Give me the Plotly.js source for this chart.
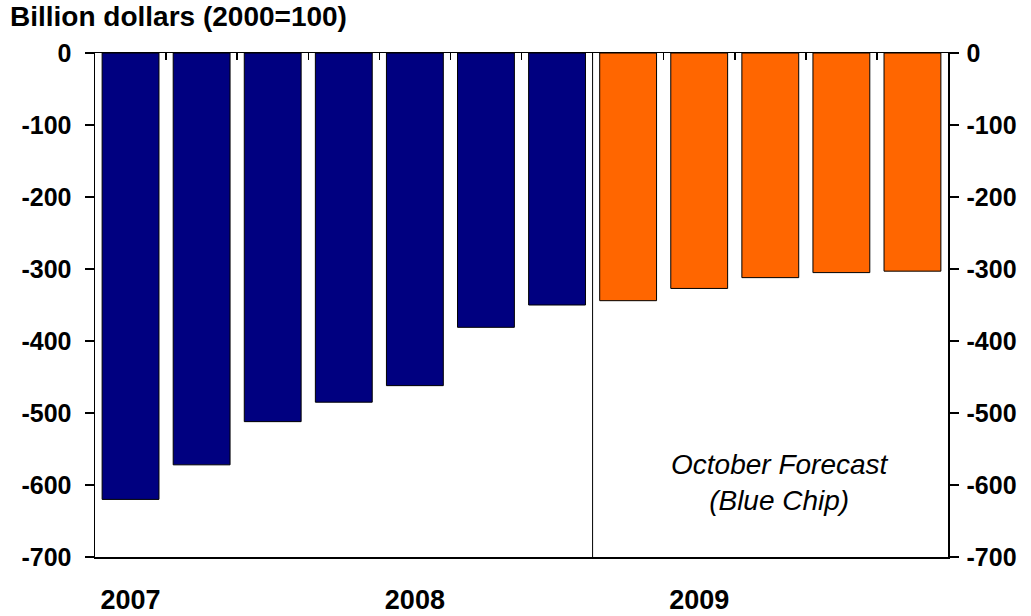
<!DOCTYPE html>
<html>
<head>
<meta charset="utf-8">
<script src="https://cdn.plot.ly/plotly-3.0.1.min.js"></script>
<style>html,body{margin:0;padding:0;background:#fff;}#chart{width:1031px;height:616px;}</style>
</head>
<body>
<div id="chart"></div>
<script>
const quarters = ['2007Q1','2007Q2','2007Q3','2007Q4','2008Q1','2008Q2','2008Q3','2008Q4','2009Q1','2009Q2','2009Q3','2009Q4'];
const values = [-620, -572, -512, -485, -462, -381, -350, -344, -327, -312, -305, -303];
const isForecast = [false,false,false,false,false,false,false,true,true,true,true,true];
const yearTickVals = ['2007Q1','2008Q1','2009Q1'];
const yearTickText = ['2007','2008','2009'];
const yTicks = [0,-100,-200,-300,-400,-500,-600,-700];

const NAVY = '#000080', ORANGE = '#FF6600';
const FONT = 'Liberation Sans, Arial, sans-serif';

const traces = [
  {
    type: 'bar', x: quarters, y: values,
    marker: {color: isForecast.map(f => f ? ORANGE : NAVY), line: {color: '#000', width: 1}},
    xaxis: 'x', yaxis: 'y', hoverinfo: 'x+y'
  },
  {
    type: 'scatter', mode: 'none', x: quarters, y: values,
    xaxis: 'x2', yaxis: 'y2', hoverinfo: 'skip', showlegend: false
  }
];

const yCommon = {
  range: [-700, 0], tickvals: yTicks, ticktext: yTicks.map(String),
  ticks: 'outside', ticklen: 9, tickwidth: 1.5, tickcolor: '#000',
  showline: true, linecolor: '#000', linewidth: 1.5,
  showgrid: false, zeroline: false, fixedrange: true,
  tickfont: {family: FONT, size: 25, color: '#000', weight: 'bold'}
};

const layout = {
  width: 1031, height: 616,
  margin: {l: 95, r: 83, t: 53, b: 59},
  paper_bgcolor: '#fff', plot_bgcolor: '#fff',
  showlegend: false, bargap: 0.2,
  title: {
    text: 'Billion dollars (2000=100)',
    font: {family: FONT, size: 28, color: '#000', weight: 'bold'},
    x: 10/1031, xref: 'container', xanchor: 'left',
    y: 1 - 6/616, yref: 'container', yanchor: 'top'
  },
  xaxis: {
    type: 'category', categoryarray: quarters, range: [-0.5, 11.5],
    tickvals: yearTickVals, ticktext: yearTickText,
    ticks: '', showline: true, linecolor: '#000', linewidth: 1.5,
    mirror: true, showgrid: false, zeroline: false, fixedrange: true,
    ticklabelstandoff: 18,
    tickfont: {family: FONT, size: 27, color: '#000', weight: 'bold'}
  },
  xaxis2: {
    type: 'category', categoryarray: quarters, range: [-0.5, 11.5],
    overlaying: 'x', side: 'top', anchor: 'y',
    ticks: 'inside', tickson: 'boundaries', ticklen: 7, tickwidth: 1.5, tickcolor: '#000',
    showticklabels: false, showline: false, showgrid: false, zeroline: false, fixedrange: true
  },
  yaxis: Object.assign({}, yCommon, {side: 'left', ticklabelstandoff: 8}),
  yaxis2: Object.assign({}, yCommon, {side: 'right', overlaying: 'y', anchor: 'x', ticklabelstandoff: 3}),
  shapes: [{
    type: 'line', xref: 'x', yref: 'paper', x0: 6.5, x1: 6.5, y0: 0, y1: 1,
    line: {color: '#000', width: 1}
  }],
  annotations: [{
    xref: 'paper', yref: 'paper', x: 0.803, y: 0.147, xanchor: 'center', yanchor: 'middle',
    text: 'October Forecast<br>(Blue Chip)', showarrow: false, align: 'center',
    font: {family: FONT, size: 28, color: '#000', style: 'italic'}
  }]
};

Plotly.newPlot('chart', traces, layout, {displayModeBar: false, staticPlot: true});
</script>
</body>
</html>
